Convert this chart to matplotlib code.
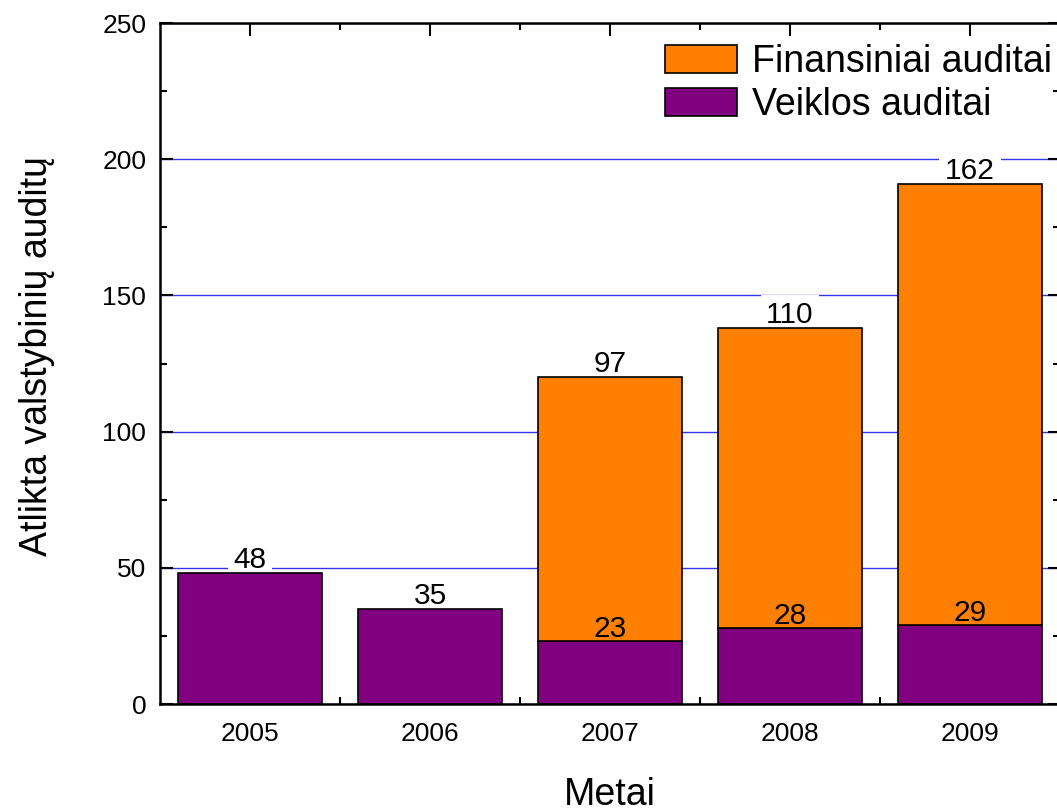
import matplotlib
matplotlib.use("Agg")
import matplotlib.pyplot as plt
from matplotlib.ticker import MultipleLocator, FixedLocator
import numpy as np

plt.rcParams['font.family'] = ['Liberation Sans', 'DejaVu Sans']

years = ['2005', '2006', '2007', '2008', '2009']
veiklos = [48, 35, 23, 28, 29]
finansiniai = [0, 0, 97, 110, 162]

orange = '#FF8000'
purple = '#800080'

fig = plt.figure(figsize=(10.57, 8.11), dpi=100)
ax = fig.add_axes([0.1514, 0.1319, 1.0028 - 0.1514, 0.9716 - 0.1319])

x = np.arange(len(years))
width = 0.8

ax.set_axisbelow(True)
ax.yaxis.grid(True, which='major', color='#3333ee', linewidth=1.0)
ax.xaxis.grid(False)

b1 = ax.bar(x, veiklos, width, color=purple, edgecolor='black', linewidth=1.2,
            label='Veiklos auditai', zorder=2)
fin_mask = np.array(finansiniai) > 0
b2 = ax.bar(x[fin_mask], np.array(finansiniai)[fin_mask], width,
            bottom=np.array(veiklos)[fin_mask], color=orange, edgecolor='black',
            linewidth=1.2, label='Finansiniai auditai', zorder=2)

# value labels; those sitting above a bar blank out the grid line behind them
label_kw = dict(ha='center', va='bottom', fontsize=21.5)
white_box = dict(facecolor='white', edgecolor='none', pad=4)
for xi, v, f in zip(x, veiklos, finansiniai):
    if f > 0:
        ax.text(xi, v - 0.7, str(v), zorder=4, **label_kw)
        ax.text(xi, v + f - 0.3, str(f), zorder=1.5, bbox=white_box, **label_kw)
    else:
        ax.text(xi, v - 0.3, str(v), zorder=1.5, bbox=white_box, **label_kw)

ax.set_xlim(-0.5, 4.5)
ax.set_ylim(0, 250)
ax.set_xticks(x)
ax.set_xticklabels(years)
ax.xaxis.set_minor_locator(FixedLocator(x[:-1] + 0.5))
ax.yaxis.set_major_locator(MultipleLocator(50))
ax.yaxis.set_minor_locator(MultipleLocator(25))

ax.tick_params(which='both', direction='in', top=True, right=True, width=1.5)
ax.tick_params(which='major', length=9)
ax.tick_params(which='minor', length=5)
ax.tick_params(axis='x', which='major', labelsize=19, pad=13)
ax.tick_params(axis='y', which='major', labelsize=19, pad=10)

for sp in ax.spines.values():
    sp.set_linewidth(1.8)

ax.set_xlabel('Metai', fontsize=27, labelpad=22)
ax.set_ylabel('Atlikta valstybinių auditų', fontsize=27)
ax.yaxis.set_label_coords(-0.117, 0.511)

leg = ax.legend([b2, b1], ['Finansiniai auditai', 'Veiklos auditai'],
                loc='upper left', bbox_to_anchor=(0.561, 0.969), frameon=False,
                fontsize=27, handlelength=1.92, handleheight=0.75,
                handletextpad=0.4, labelspacing=0.18, borderaxespad=0,
                borderpad=0)

fig.savefig('out.png', dpi=100)
